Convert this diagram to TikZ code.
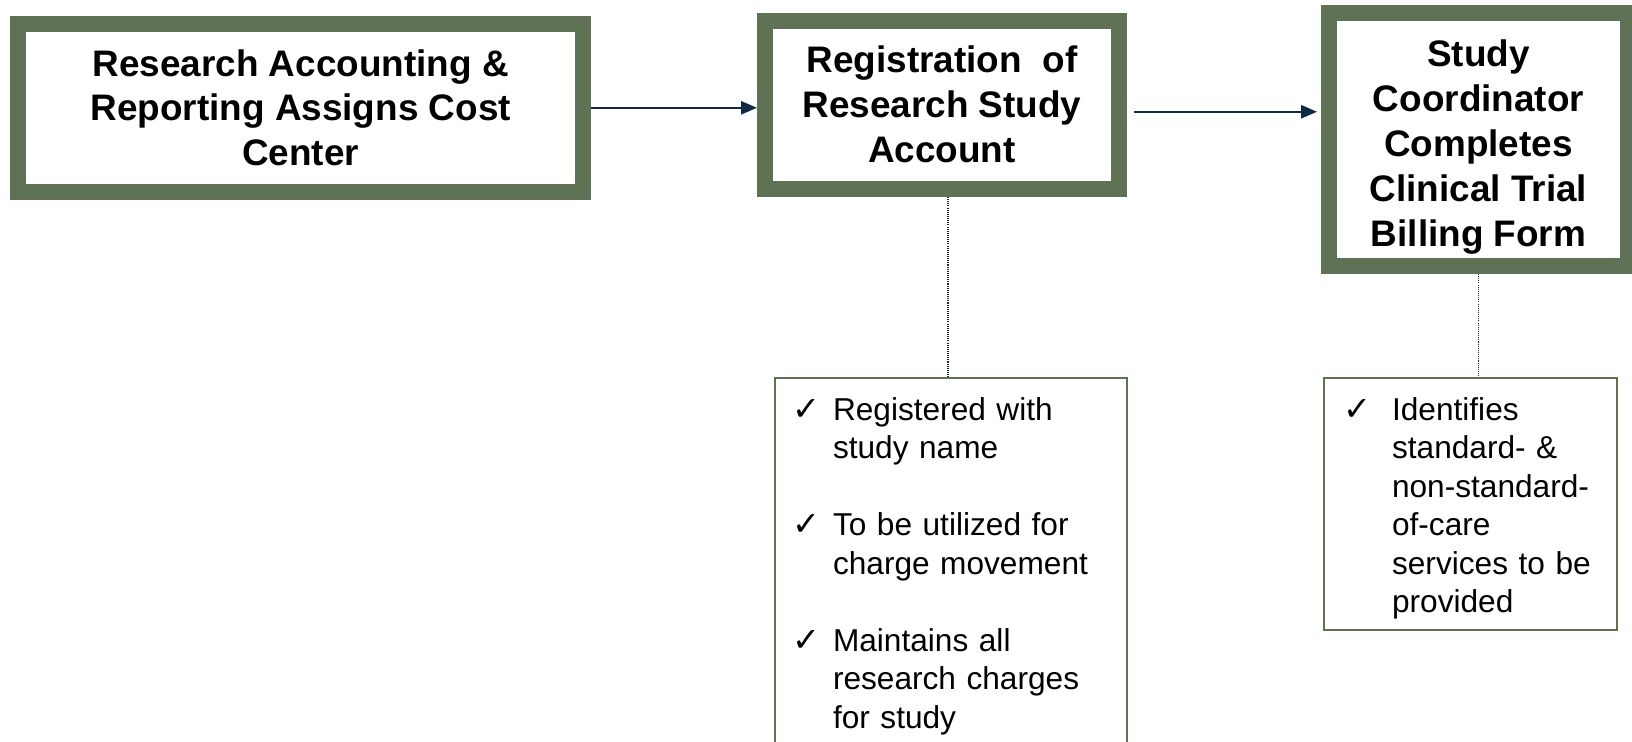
\documentclass[tikz,border=0pt]{standalone}
\usepackage{fontspec}
\setmainfont{Liberation Sans}
\newfontfamily\checkfont{DejaVu Sans}
\usetikzlibrary{arrows.meta}
\definecolor{framegreen}{RGB}{95,114,86}
\definecolor{flownavy}{RGB}{16,42,67}
\newcommand{\chk}{{\checkfont\fontsize{19}{19}\selectfont ✓}}
\newcommand{\itemgap}{21.9pt}

\begin{document}
\begin{tikzpicture}[x=0.2mm, y=0.2mm]
	\tikzstyle{stepbox}=[draw=framegreen, line width=3.2mm, inner sep=0pt, align=center, font=\fontsize{21}{25.6}\selectfont\bfseries]
	\tikzstyle{notebox}=[draw=framegreen, line width=0.4mm, anchor=north, inner ysep=3.1mm, align=left, font=\fontsize{18}{21.9}\selectfont]
	\tikzstyle{flow}=[draw=flownavy, line width=1.2pt, -{Triangle[length=9pt,width=7.4pt]}]
	\tikzstyle{link}=[draw=flownavy, line width=0.6pt, dash pattern=on 0.6pt off 0.6pt]
	\useasboundingbox (0,0) rectangle (1632,-741);
	\node [stepbox, minimum width=112.92mm, minimum height=33.68mm] (b1) at (300.7,-107.8) {Research Accounting \&\\Reporting Assigns Cost\\Center};
	\node [stepbox, minimum width=70.8mm, minimum height=33.7mm] (b2) at (942,-104.75) {Registration\ \ of\\Research Study\\Account};
	\node [stepbox, minimum width=59.8mm, minimum height=50.6mm, text height=126pt] (b3) at (1478.5,-139.5) {Study\\Coordinator\\Completes\\Clinical Trial\\Billing Form};
	\node [notebox, inner xsep=3.4mm, text width=63.6mm, text depth=66mm] (l1) at (951,-377) {\begin{tabular}[t]{@{}p{8.2mm}@{}l@{}}
		\chk & Registered with\\
		& study name\\[\itemgap]
		\chk & To be utilized for\\
		& charge movement\\[\itemgap]
		\chk & Maintains all\\
		& research charges\\
		& for study
	\end{tabular}};
	\node [notebox, inner xsep=4.0mm, text width=50.66mm, text depth=38.8mm] (l2) at (1470.4,-377) {\begin{tabular}[t]{@{}p{9.66mm}@{}l@{}}
		\chk & Identifies\\
		& standard- \&\\
		& non-standard-\\
		& of-care\\
		& services to be\\
		& provided
	\end{tabular}};
	\draw [flow] (b1.east) -- (b1.east -| b2.west);
	\draw [flow, shorten <=1.4mm, shorten >=0.8mm] ([yshift=-1.4mm]b2.east) -- ([yshift=-1.4mm]b2.east -| b3.west);
	\draw [link] ([xshift=-0.6mm]b2.south -| l1.north) -- ([xshift=-0.6mm]l1.north);
	\draw [link] (b3.south) -- (b3.south |- l2.north);
\end{tikzpicture}
\end{document}
